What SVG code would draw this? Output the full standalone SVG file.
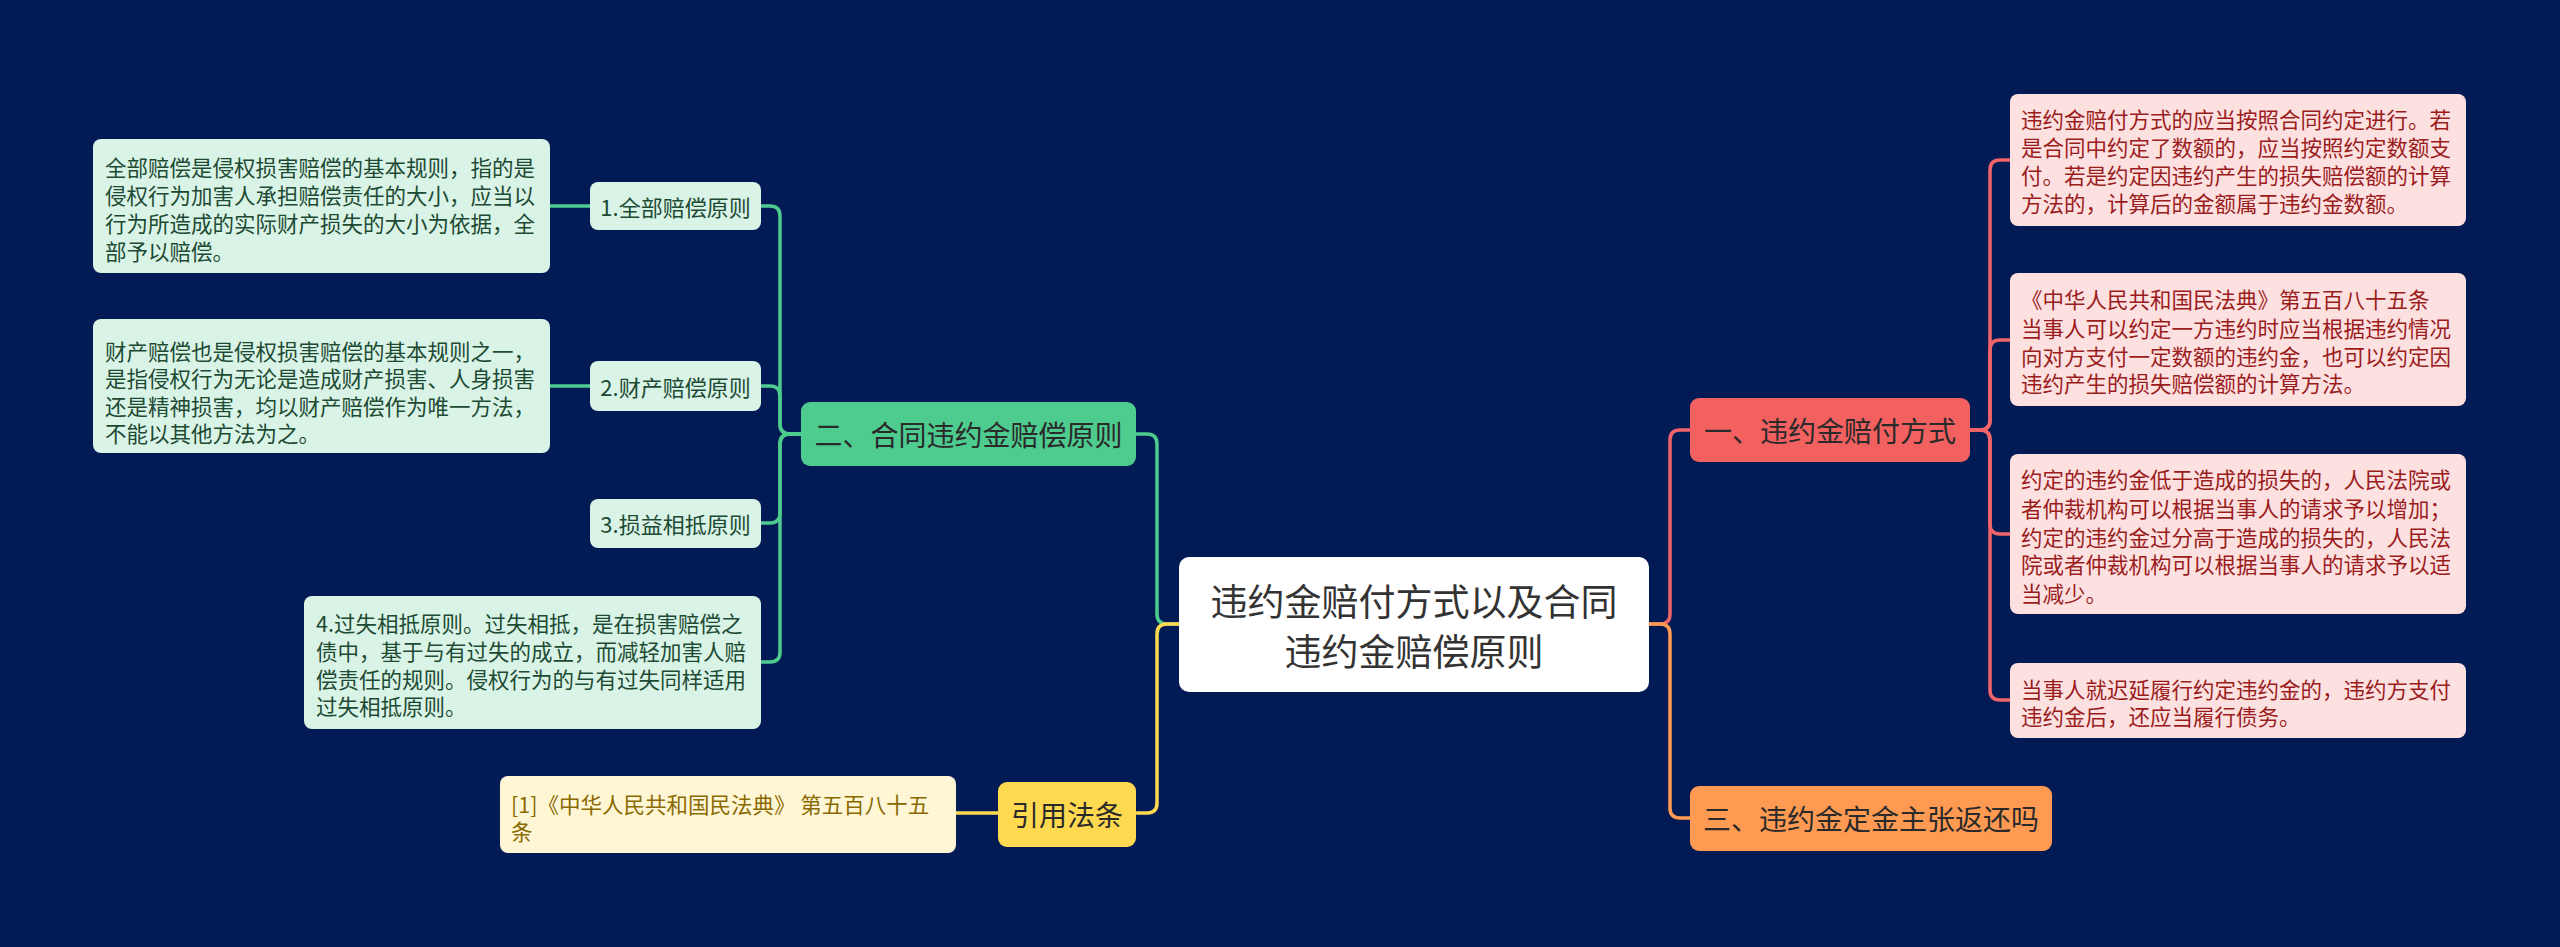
<svg xmlns="http://www.w3.org/2000/svg" width="2560" height="947" viewBox="0 0 2560 947">
<style>
text{font-family:"Noto Sans CJK SC","Noto Sans",sans-serif;dominant-baseline:central}
.c{fill:none;stroke-width:3.5;stroke-linecap:round}
.root{fill:#ffffff}
.rt{font-size:37px;fill:#333333;text-anchor:middle}
.bt{font-size:28px;fill:#2a2a2a;text-anchor:middle}
.st{font-size:22px;fill:#1d4a33;text-anchor:middle}
.gl{font-size:21.5px;fill:#1d4a33}
.rl{font-size:21.5px;fill:#9b1c1c}
.yl{font-size:21.5px;fill:#8a6a00}
.gfill{fill:#d9f4e7}
.rfill{fill:#fde1e1}
</style>
<rect width="2560" height="947" fill="#021b55"/>
<g id="connectors">
<path class="c" stroke="#f0646a" d="M1649,624 H1660 Q1670,624 1670,614 V440 Q1670,430 1680,430 H1690"/>
<path class="c" stroke="#ff9a52" d="M1649,624 H1660 Q1670,624 1670,634 V808 Q1670,818 1680,818 H1690"/>
<path class="c" stroke="#4ecb8e" d="M1179,624 H1167 Q1157,624 1157,614 V444 Q1157,434 1147,434 H1136"/>
<path class="c" stroke="#ffd94f" d="M1179,624 H1167 Q1157,624 1157,634 V803 Q1157,813 1147,813 H1137"/>
<path class="c" stroke="#4ecb8e" d="M801,434 H790 Q780,434 780,424 V216 Q780,206 770,206 H761"/>
<path class="c" stroke="#4ecb8e" d="M801,434 H790 Q780,434 780,424 V396 Q780,386 770,386 H761"/>
<path class="c" stroke="#4ecb8e" d="M801,434 H790 Q780,434 780,444 V513 Q780,523 770,523 H761"/>
<path class="c" stroke="#4ecb8e" d="M801,434 H790 Q780,434 780,444 V652 Q780,662 770,662 H761"/>
<path class="c" stroke="#4ecb8e" d="M550,206 H590"/>
<path class="c" stroke="#4ecb8e" d="M550,386 H590"/>
<path class="c" stroke="#ffd94f" d="M956,813 H998"/>
<path class="c" stroke="#f0646a" d="M1970,430 H1980 Q1990,430 1990,420 V170 Q1990,160 2000,160 H2010"/>
<path class="c" stroke="#f0646a" d="M1970,430 H1980 Q1990,430 1990,420 V350 Q1990,340 2000,340 H2010"/>
<path class="c" stroke="#f0646a" d="M1970,430 H1980 Q1990,430 1990,440 V524 Q1990,534 2000,534 H2010"/>
<path class="c" stroke="#f0646a" d="M1970,430 H1980 Q1990,430 1990,440 V690 Q1990,700 2000,700 H2010"/>
</g>
<g id="root">
<rect class="root" x="1179" y="557" width="470" height="135" rx="10"/>
<text class="rt" x="1414" y="600">违约金赔付方式以及合同</text>
<text class="rt" x="1414" y="650">违约金赔偿原则</text>
</g>
<g id="branch1">
<rect x="1690" y="398" width="280" height="64" rx="9" fill="#f26060"/>
<text class="bt" x="1830" y="430">一、违约金赔付方式</text>
</g>
<g id="branch3">
<rect x="1690" y="786" width="362" height="65" rx="9" fill="#ff9a52"/>
<text class="bt" x="1871" y="818">三、违约金定金主张返还吗</text>
</g>
<g id="branch2">
<rect x="801" y="402" width="335" height="64" rx="9" fill="#4ecb8e"/>
<text class="bt" x="968.5" y="434">二、合同违约金赔偿原则</text>
</g>
<g id="branch4">
<rect x="998" y="782" width="138" height="65" rx="9" fill="#ffd94f"/>
<text class="bt" x="1067" y="814">引用法条</text>
</g>
<g id="sub1">
<rect class="gfill" x="590" y="182" width="171" height="48" rx="8"/>
<text class="st" x="675.5" y="206">1.全部赔偿原则</text>
</g>
<g id="sub2">
<rect class="gfill" x="590" y="361" width="171" height="50" rx="8"/>
<text class="st" x="675.5" y="386">2.财产赔偿原则</text>
</g>
<g id="sub3">
<rect class="gfill" x="590" y="499" width="171" height="49" rx="8"/>
<text class="st" x="675.5" y="523">3.损益相抵原则</text>
</g>
<g id="sub4">
<rect class="gfill" x="304" y="596" width="457" height="133" rx="8"/>
<text class="gl" x="316" y="622">4.过失相抵原则。过失相抵，是在损害赔偿之</text>
<text class="gl" x="316" y="650">债中，基于与有过失的成立，而减轻加害人赔</text>
<text class="gl" x="316" y="678">偿责任的规则。侵权行为的与有过失同样适用</text>
<text class="gl" x="316" y="705">过失相抵原则。</text>
</g>
<g id="leaf1">
<rect class="gfill" x="93" y="139" width="457" height="134" rx="8"/>
<text class="gl" x="105" y="166">全部赔偿是侵权损害赔偿的基本规则，指的是</text>
<text class="gl" x="105" y="194">侵权行为加害人承担赔偿责任的大小，应当以</text>
<text class="gl" x="105" y="222">行为所造成的实际财产损失的大小为依据，全</text>
<text class="gl" x="105" y="250">部予以赔偿。</text>
</g>
<g id="leaf2">
<rect class="gfill" x="93" y="319" width="457" height="134" rx="8"/>
<text class="gl" x="105" y="350">财产赔偿也是侵权损害赔偿的基本规则之一，</text>
<text class="gl" x="105" y="377">是指侵权行为无论是造成财产损害、人身损害</text>
<text class="gl" x="105" y="405">还是精神损害，均以财产赔偿作为唯一方法，</text>
<text class="gl" x="105" y="432">不能以其他方法为之。</text>
</g>
<g id="cite">
<rect x="500" y="776" width="456" height="77" rx="8" fill="#fff6d6"/>
<text class="yl" x="511" y="803">[1]《中华人民共和国民法典》 第五百八十五</text>
<text class="yl" x="511" y="830">条</text>
</g>
<g id="r1">
<rect class="rfill" x="2010" y="94" width="456" height="132" rx="8"/>
<text class="rl" x="2021" y="118">违约金赔付方式的应当按照合同约定进行。若</text>
<text class="rl" x="2021" y="146">是合同中约定了数额的，应当按照约定数额支</text>
<text class="rl" x="2021" y="174">付。若是约定因违约产生的损失赔偿额的计算</text>
<text class="rl" x="2021" y="202">方法的，计算后的金额属于违约金数额。</text>
</g>
<g id="r2">
<rect class="rfill" x="2010" y="273" width="456" height="133" rx="8"/>
<text class="rl" x="2021" y="298">《中华人民共和国民法典》第五百八十五条</text>
<text class="rl" x="2021" y="327">当事人可以约定一方违约时应当根据违约情况</text>
<text class="rl" x="2021" y="355">向对方支付一定数额的违约金，也可以约定因</text>
<text class="rl" x="2021" y="382">违约产生的损失赔偿额的计算方法。</text>
</g>
<g id="r3">
<rect class="rfill" x="2010" y="454" width="456" height="160" rx="8"/>
<text class="rl" x="2021" y="478">约定的违约金低于造成的损失的，人民法院或</text>
<text class="rl" x="2021" y="507">者仲裁机构可以根据当事人的请求予以增加；</text>
<text class="rl" x="2021" y="536">约定的违约金过分高于造成的损失的，人民法</text>
<text class="rl" x="2021" y="563">院或者仲裁机构可以根据当事人的请求予以适</text>
<text class="rl" x="2021" y="592">当减少。</text>
</g>
<g id="r4">
<rect class="rfill" x="2010" y="663" width="456" height="75" rx="8"/>
<text class="rl" x="2021" y="688">当事人就迟延履行约定违约金的，违约方支付</text>
<text class="rl" x="2021" y="715">违约金后，还应当履行债务。</text>
</g>
</svg>
